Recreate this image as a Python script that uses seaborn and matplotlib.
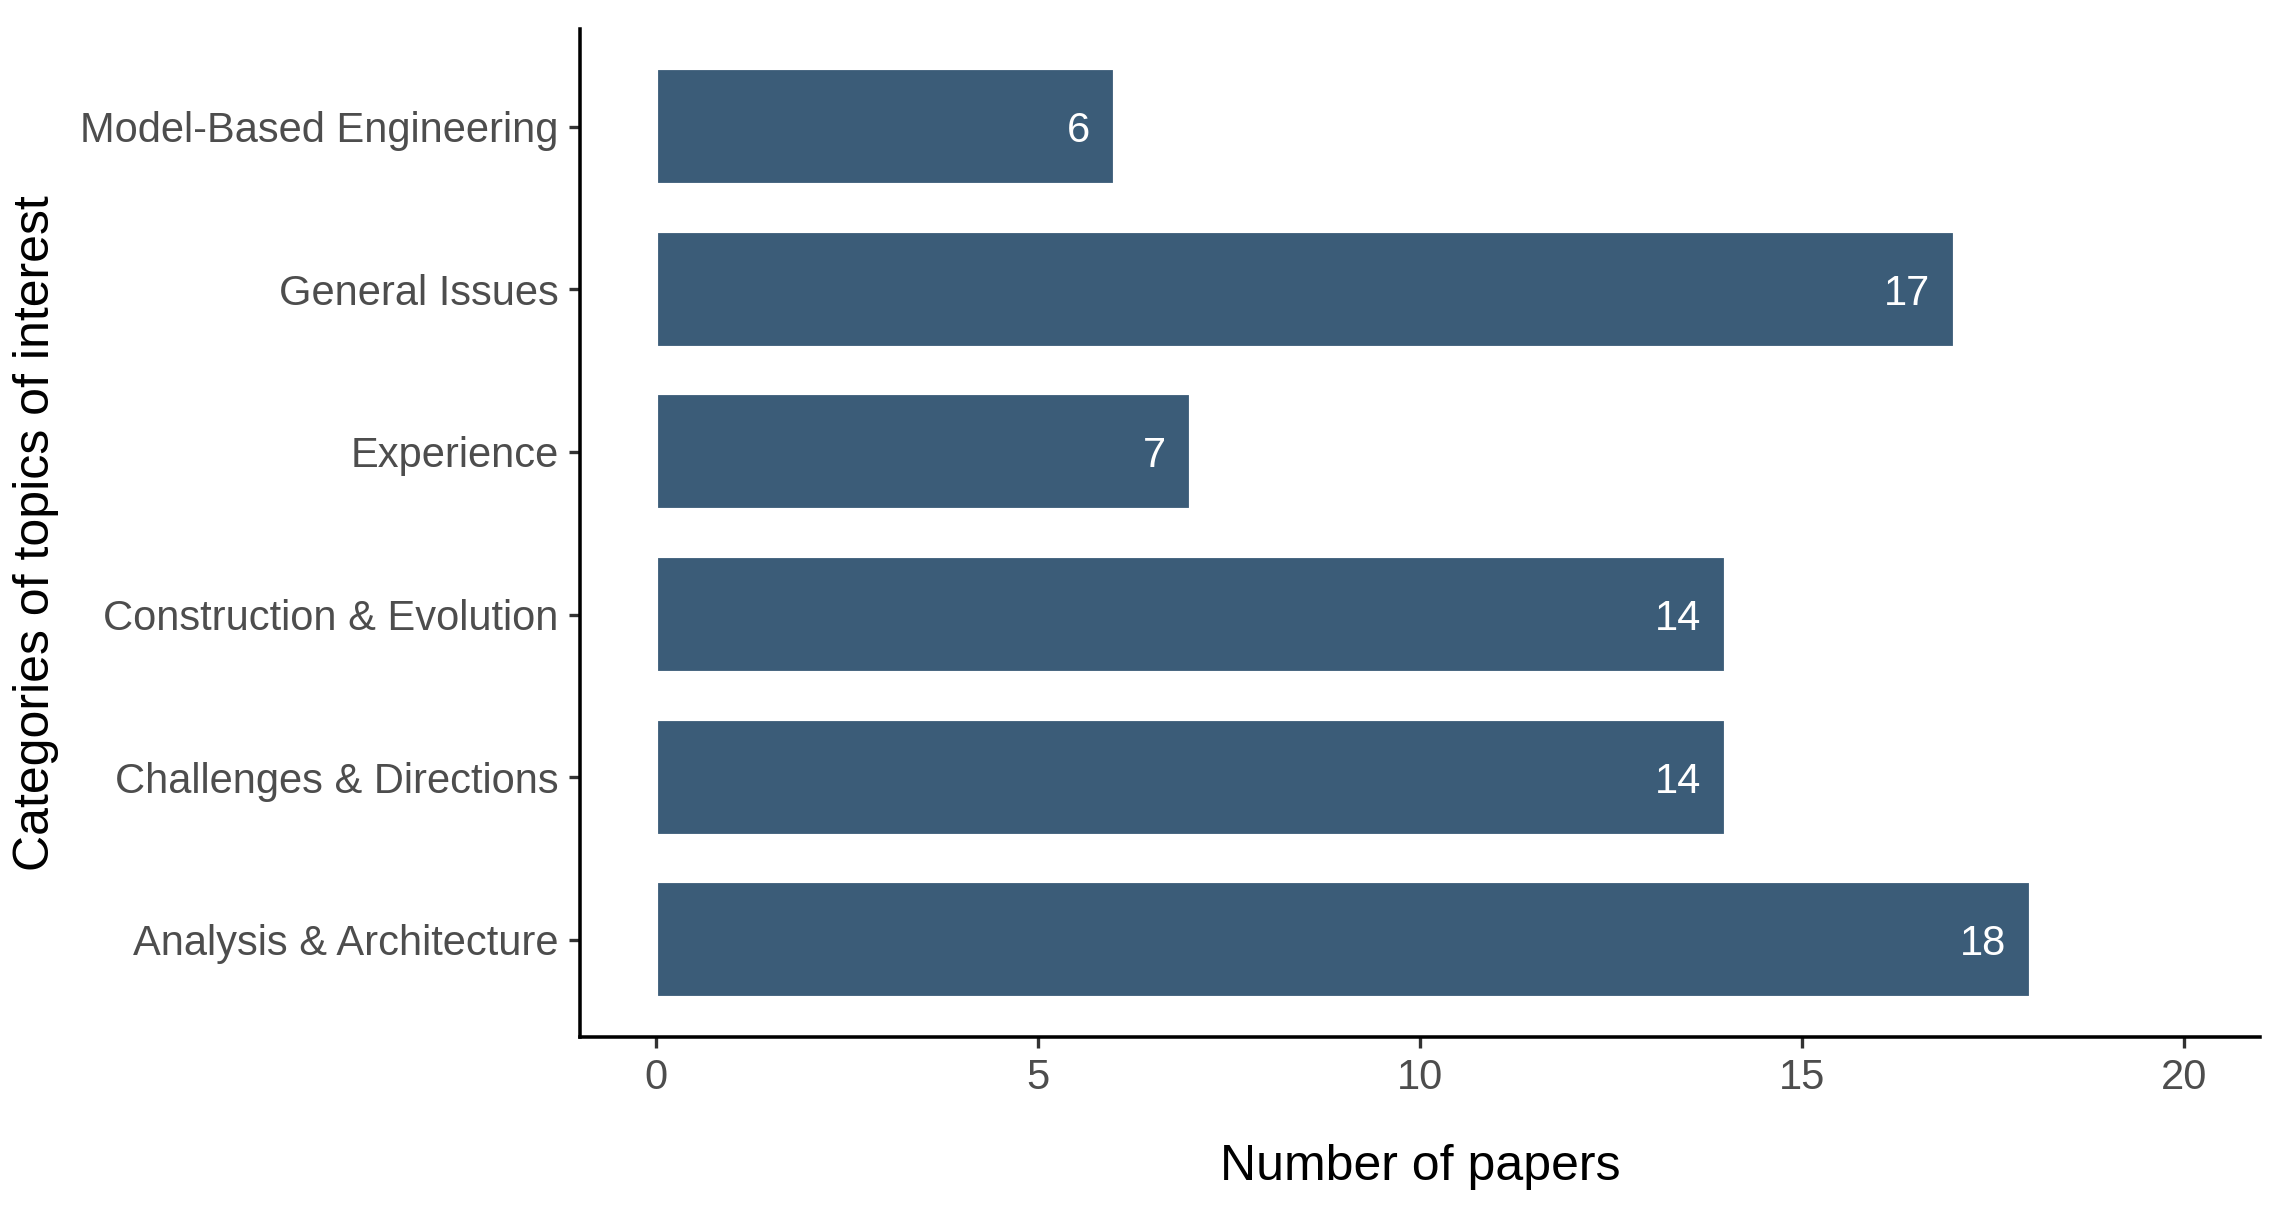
import matplotlib

matplotlib.use("Agg")
import matplotlib.pyplot as plt
import pandas as pd
import seaborn as sns

categories = [
    "Model-Based Engineering",
    "General Issues",
    "Experience",
    "Construction & Evolution",
    "Challenges & Directions",
    "Analysis & Architecture",
]
papers = [6, 17, 7, 14, 14, 18]

BAR = "#3b5c78"

sns.set_theme(style="ticks")
plt.rcParams["font.family"] = ["Liberation Sans", "DejaVu Sans"]

df = pd.DataFrame({"category": categories, "papers": papers})

fig, ax = plt.subplots(figsize=(2283 / 300, 1216 / 300), dpi=300)
fig.subplots_adjust(left=0.254, right=0.990, top=0.976, bottom=0.147)

sns.barplot(data=df, x="papers", y="category", order=categories,
            color=BAR, saturation=1, width=0.72, ax=ax)

# value labels inside the bar ends
for i, v in enumerate(papers):
    ax.text(v - 0.32, i, str(v), ha="right", va="center_baseline",
            color="white", fontsize=10)

ax.set_xlim(-1, 21)
ax.set_ylim(5.6, -0.6)
ax.set_xticks([0, 5, 10, 15, 20])
ax.set_xlabel("Number of papers", fontsize=12, color="black", labelpad=11)
ax.set_ylabel("Categories of topics of interest", fontsize=12, color="black", labelpad=5)
ax.tick_params(axis="both", labelsize=10, labelcolor="#4d4d4d", color="#333333",
               length=2.6, width=0.8, direction="out", pad=2.5)
for s in ["left", "bottom"]:
    ax.spines[s].set_linewidth(0.85)
    ax.spines[s].set_color("black")
sns.despine(ax=ax)

fig.savefig("out.png", dpi=300)
